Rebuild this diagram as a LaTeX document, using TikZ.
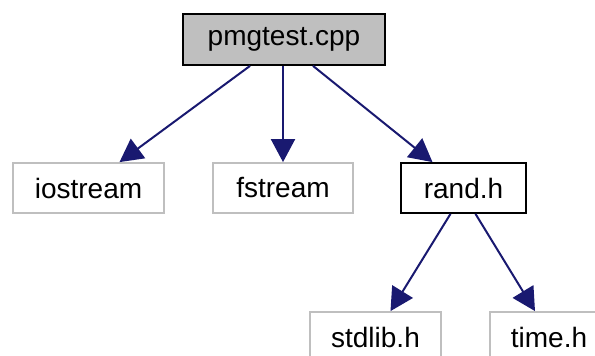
\documentclass[tikz,border=0pt]{standalone}
\usepackage{fontspec}
\setmainfont{Liberation Sans}
\usetikzlibrary{arrows.meta}
\definecolor{edgeblue}{HTML}{191970}
\definecolor{boxgray}{HTML}{BFBFBF}
\begin{document}
\begin{tikzpicture}[x=1pt,y=-1pt,
  filebox/.style={draw=boxgray,line width=1.8pt,minimum height=50pt,inner sep=0pt,
    font=\fontsize{28}{30}\selectfont},
  mainbox/.style={filebox,draw=black,fill=boxgray},
  localbox/.style={filebox,draw=black},
  dep/.style={draw=edgeblue,line width=2pt,-{Triangle[length=23pt,width=24pt]}}]
\useasboundingbox (0,0) rectangle (595,356);
\node[mainbox,minimum width=202pt,minimum height=51pt] (pm) at (284,39.5) {pmgtest.cpp};
\node[filebox,minimum width=151pt] (io) at (88.5,188) {iostream};
\node[filebox,minimum width=140pt] (fs) at (283,188) {fstream};
\node[localbox,minimum width=125pt] (rd) at (463.5,188) {rand.h};
\node[filebox,minimum width=131pt] (sl) at (375.5,337) {stdlib.h};
\node[filebox,minimum width=118pt] (tm) at (549,337) {time.h};
\draw[dep] ([xshift=-34pt]pm.south) -- ([xshift=31pt]io.north);
\draw[dep] ([xshift=-1pt]pm.south) -- (fs.north);
\draw[dep] ([xshift=29pt]pm.south) -- ([xshift=-31pt]rd.north);
\draw[dep] ([xshift=-13pt]rd.south) -- ([xshift=15pt]sl.north);
\draw[dep] ([xshift=12pt]rd.south) -- ([xshift=-14pt]tm.north);
\end{tikzpicture}
\end{document}
